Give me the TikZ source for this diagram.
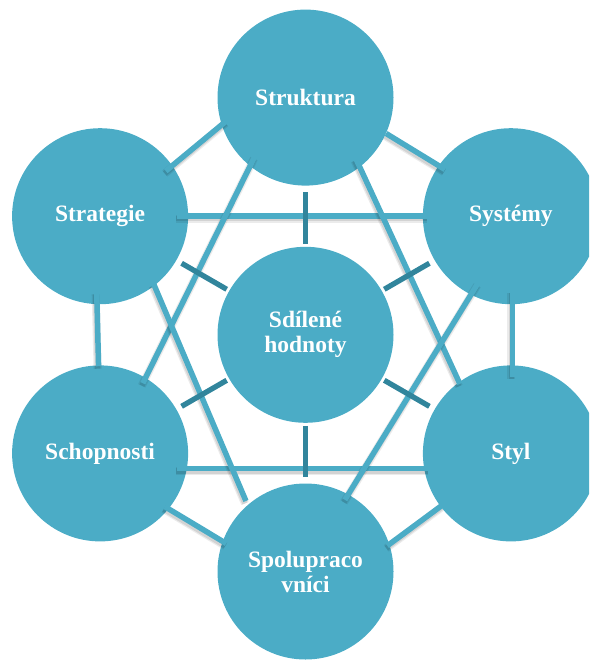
\documentclass[tikz,border=0pt]{standalone}
\usepackage{fontspec}
\setmainfont{Liberation Serif}
\definecolor{aqua}{HTML}{4BACC6}
\definecolor{aquadark}{HTML}{31859C}
\begin{document}
\begin{tikzpicture}[x=1pt,y=-1pt,
  bubble/.style={circle, fill=aqua, minimum size=176pt, inner sep=0pt,
    text=white, align=center, font=\bfseries\fontsize{23.5}{25}\selectfont},
  link/.style={draw=aqua, line width=5.5pt,
    preaction={draw=black, draw opacity=0.08, line width=8pt,
      transform canvas={shift={(-1pt,-2.5pt)}}},
    preaction={draw=black, draw opacity=0.10, line width=5.5pt,
      transform canvas={shift={(-1pt,-2.5pt)}}}},
  spoke/.style={draw=aquadark, line width=5.3pt}]
\useasboundingbox (0,0) rectangle (589,660);
\clip (0,0) rectangle (589,660);

% the seven circles
\node[bubble] (C)  at (305.5,334.8) {Sdílené\\hodnoty};
\node[bubble] (T)  at (305.5,97.6)  {Struktura};
\node[bubble] (UL) at (100.1,216.2) {Strategie};
\node[bubble] (UR) at (510.9,216.2) {Systémy};
\node[bubble] (LL) at (100.1,453.4) {Schopnosti};
\node[bubble] (LR) at (510.9,453.4) {Styl};
\node[bubble] (B)  at (305.5,571.5) {Spolupraco\\vníci};

% outer ring
\draw[link, shorten <=-6.5pt, shorten >=-8.5pt]  (T.198.2)  -- (UL.35.1);
\draw[link, shorten >=-7.4pt]                    (T.336.7)  -- (UR.145.7);
\draw[link, shorten <=-12.5pt, shorten >=-1pt]   (UL.268.1) -- (LL.91.9);
\draw[link, shorten <=-13.5pt, shorten >=-11.3pt](UR.271)   -- (LR.89);
\draw[link, shorten <=-4.5pt, shorten >=-4.2pt]  (LL.321.3) -- (B.160.6);
\draw[link, shorten <=-2.4pt, shorten >=-2.6pt]  (LR.217.8) -- (B.18.8);

% star links
\draw[link, shorten <=-11.5pt, shorten >=-5pt]   (UL.0)     -- (UR.180);
\draw[link, shorten <=-10pt, shorten >=-5pt]     (LL.350)   -- (LR.190);
\draw[link, shorten <=-11.2pt, shorten >=-6.1pt] (T.231.7)  -- (LL.59.5);
\draw[link, shorten <=-9.7pt, shorten >=-2pt]    (T.308.9)  -- (LR.126);
\draw[link, shorten <=-2.3pt, shorten >=4.3pt]   (UL.308.5) -- (B.131.1);
\draw[link, shorten <=-14pt, shorten >=-6.4pt]   (UR.243.5) -- (B.61.6);

% spokes from the centre
\foreach \n in {T,UL,UR,LL,LR,B}
  \draw[spoke, shorten <=2.8pt, shorten >=5.9pt] (C) -- (\n);
\end{tikzpicture}
\end{document}
